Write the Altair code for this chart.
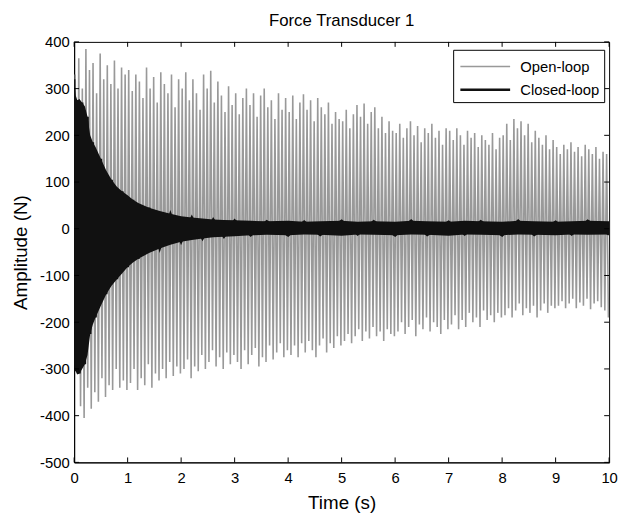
import altair as alt
import pandas as pd

TITLE = "Force Transducer 1"
X_TITLE = "Time (s)"
Y_TITLE = "Amplitude (N)"
SERIES = ["Open-loop", "Closed-loop"]
X_TICKS = list(range(0, 11))
Y_TICKS = list(range(-500, 401, 100))

OL_CYCLES_PER_S = 15
OL_PEAKS = [
    330, 365, 300, 385, 340, 355, 290, 375, 320, 350, 310, 360, 300, 345, 330,
    340, 295, 330, 315, 280, 345, 300, 325, 270, 335, 310, 290, 330, 260, 320,
    300, 335, 275, 320, 290, 255, 330, 300, 338, 270, 315, 285, 250, 305, 265,
    290, 245, 280, 300, 265, 290, 240, 285, 300, 260, 275, 235, 290, 255, 280,
    250, 285, 235, 270, 288, 255, 275, 230, 280, 260, 245, 270, 225, 250, 235,
    230, 255, 215, 245, 265, 240, 268, 225, 250, 260, 215, 240, 205, 230, 210,
    205, 225, 195, 215, 230, 200, 220, 185, 215, 205, 225, 195, 210, 180, 215,
    210, 190, 215, 200, 180, 210, 195, 205, 175, 200, 190, 180, 205, 170, 195,
    200, 225, 190, 235, 215, 230, 200, 225, 185, 210, 195, 180, 200, 170, 190,
    175, 160, 180, 170, 185, 165, 175, 155, 180, 170, 160, 175, 150, 165, 160,
]
OL_TROUGHS = [
    -310, -380, -405, -340, -385, -350, -370, -320, -360, -335, -345, -300, -340, -325, -345,
    -330, -300, -345, -320, -335, -290, -340, -310, -325, -300, -320, -285, -315, -295, -310,
    -300, -280, -320, -295, -305, -270, -300, -285, -260, -295, -275, -300, -265, -290, -270,
    -285, -300, -260, -290, -270, -255, -295, -275, -285, -250, -280, -265, -245, -275, -260,
    -270, -250, -275, -245, -265, -240, -260, -275, -250, -235, -265, -245, -255, -230, -250,
    -240, -225, -245, -230, -215, -240, -220, -235, -210, -230, -220, -240, -215, -225, -230,
    -220, -200, -225, -210, -195, -230, -205, -215, -190, -220, -200, -210, -225, -195, -215,
    -205, -185, -215, -195, -210, -180, -200, -190, -210, -175, -195, -185, -200, -180, -190,
    -185, -170, -190, -175, -160, -185, -170, -180, -165, -190, -175, -160, -180, -165, -170,
    -165, -155, -170, -160, -150, -170, -158, -165, -150, -172, -160, -155, -168, -175, -190,
]

# Closed-loop: upper / lower envelope of the black band
CL_T = [0.0, 0.03, 0.06, 0.1, 0.15, 0.2, 0.25, 0.3, 0.35, 0.4,
        0.5, 0.6, 0.7, 0.8, 0.9, 1.0,
        1.1, 1.2, 1.4, 1.6, 1.8, 2.0,
        2.2, 2.4, 2.6, 2.8, 3.0,
        3.3, 3.6, 4.0, 4.3, 4.6, 5.0,
        5.3, 5.6, 6.0, 6.3, 6.6, 7.0,
        7.3, 7.6, 8.0, 8.3, 8.6, 9.0,
        9.3, 9.6, 10.0]
CL_HI = [320, 285, 275, 278, 270, 262, 240, 200, 185, 175,
         150, 125, 105, 90, 80, 72,
         62, 55, 45, 38, 32, 27,
         24, 22, 20, 19, 18,
         17, 16, 17, 15, 16, 17,
         15, 16, 15, 17, 16, 15,
         17, 16, 15, 17, 16, 15,
         16, 17, 16]
CL_LO = [-290, -305, -312, -310, -300, -290, -270, -225, -205, -190,
         -165, -140, -122, -108, -95, -82,
         -72, -64, -52, -42, -34, -28,
         -24, -21, -18, -17, -16,
         -14, -13, -14, -12, -13, -15,
         -12, -13, -14, -12, -13, -15,
         -12, -13, -14, -12, -13, -14,
         -12, -13, -12]

W, H = 542, 426
FONT = "Liberation Sans"

rows = []
for i, (p, q) in enumerate(zip(OL_PEAKS, OL_TROUGHS)):
    rows.append({"t": (i + 0.3) / OL_CYCLES_PER_S, "v": p, "series": "Open-loop"})
    rows.append({"t": (i + 0.8) / OL_CYCLES_PER_S, "v": q, "series": "Open-loop"})
for k, (t, hi, lo) in enumerate(zip(CL_T, CL_HI, CL_LO)):
    rows.append({"t": t, "v": hi if k % 2 == 0 else lo, "series": "Closed-loop"})
line_df = pd.DataFrame(rows)
band_df = pd.DataFrame({"t": CL_T, "v": CL_LO, "hi": CL_HI})

x_scale = alt.Scale(domain=[0, 10], nice=False, zero=False)
y_scale = alt.Scale(domain=[-500, 400], nice=False, zero=False)
axis_style = dict(
    tickSize=0, grid=False, labelExpr="'' + datum.value", labelFlush=False,
    domainColor="black", domainWidth=1,
    labelFont=FONT, labelFontSize=15, labelColor="black",
    titleFont=FONT, titleFontSize=19, titleFontWeight="normal", titleColor="black",
)
x_axis = alt.Axis(values=X_TICKS, title=X_TITLE, labelPadding=8, titlePadding=9, **axis_style)
y_axis = alt.Axis(values=Y_TICKS, title=Y_TITLE, labelPadding=5, titlePadding=9, **axis_style)


def X():
    return alt.X("t:Q", scale=x_scale, axis=x_axis)


def Y():
    return alt.Y("v:Q", scale=y_scale, axis=y_axis)


legend_kw = dict(
    title=None, orient="none", legendX=384, legendY=8,
    fillColor="white", strokeColor="black", padding=4,
    symbolType="M-2.1,0H2.1", symbolSize=576, symbolOffset=15,
    labelFontSize=15, labelFont=FONT,
    labelColor="black", labelLimit=300, labelOffset=22, rowPadding=2,
)

lines = alt.Chart(line_df).mark_line(clip=True).encode(
    x=X(), y=Y(),
    color=alt.Color("series:N", scale=alt.Scale(domain=SERIES, range=["#999999", "#111111"]),
                    legend=alt.Legend(**legend_kw)),
    strokeWidth=alt.StrokeWidth("series:N", scale=alt.Scale(domain=SERIES, range=[1.6, 2.6]),
                                legend=alt.Legend(**legend_kw)),
    detail="series:N",
)

band = alt.Chart(band_df).mark_area(color="#111111", opacity=1, clip=True).encode(
    x=X(), y=Y(), y2="hi:Q",
)

xt = pd.DataFrame({"t": X_TICKS})
yt = pd.DataFrame({"v": Y_TICKS})
tick_bottom = alt.Chart(xt).mark_rule(color="black").encode(
    x=X(), y=alt.value(H), y2=alt.value(H - 5))
tick_top = alt.Chart(xt).mark_rule(color="black").encode(
    x=X(), y=alt.value(0), y2=alt.value(5))
tick_left = alt.Chart(yt).mark_rule(color="black").encode(
    y=Y(), x=alt.value(0), x2=alt.value(5))
tick_right = alt.Chart(yt).mark_rule(color="black").encode(
    y=Y(), x=alt.value(W), x2=alt.value(W - 5))

chart = alt.layer(lines, band, tick_bottom, tick_top, tick_left, tick_right).properties(
    width=W, height=H,
    title=alt.TitleParams(TITLE, fontSize=17, fontWeight="normal", font=FONT,
                          color="black", anchor="middle", offset=5),
    autosize=alt.AutoSizeParams(type="none"),
    padding={"left": 67, "top": 31, "right": 9, "bottom": 52},
    background="white",
).configure_view(stroke="black", strokeWidth=1)

chart.save("out.html", embed_options={"renderer": "svg", "actions": False})
